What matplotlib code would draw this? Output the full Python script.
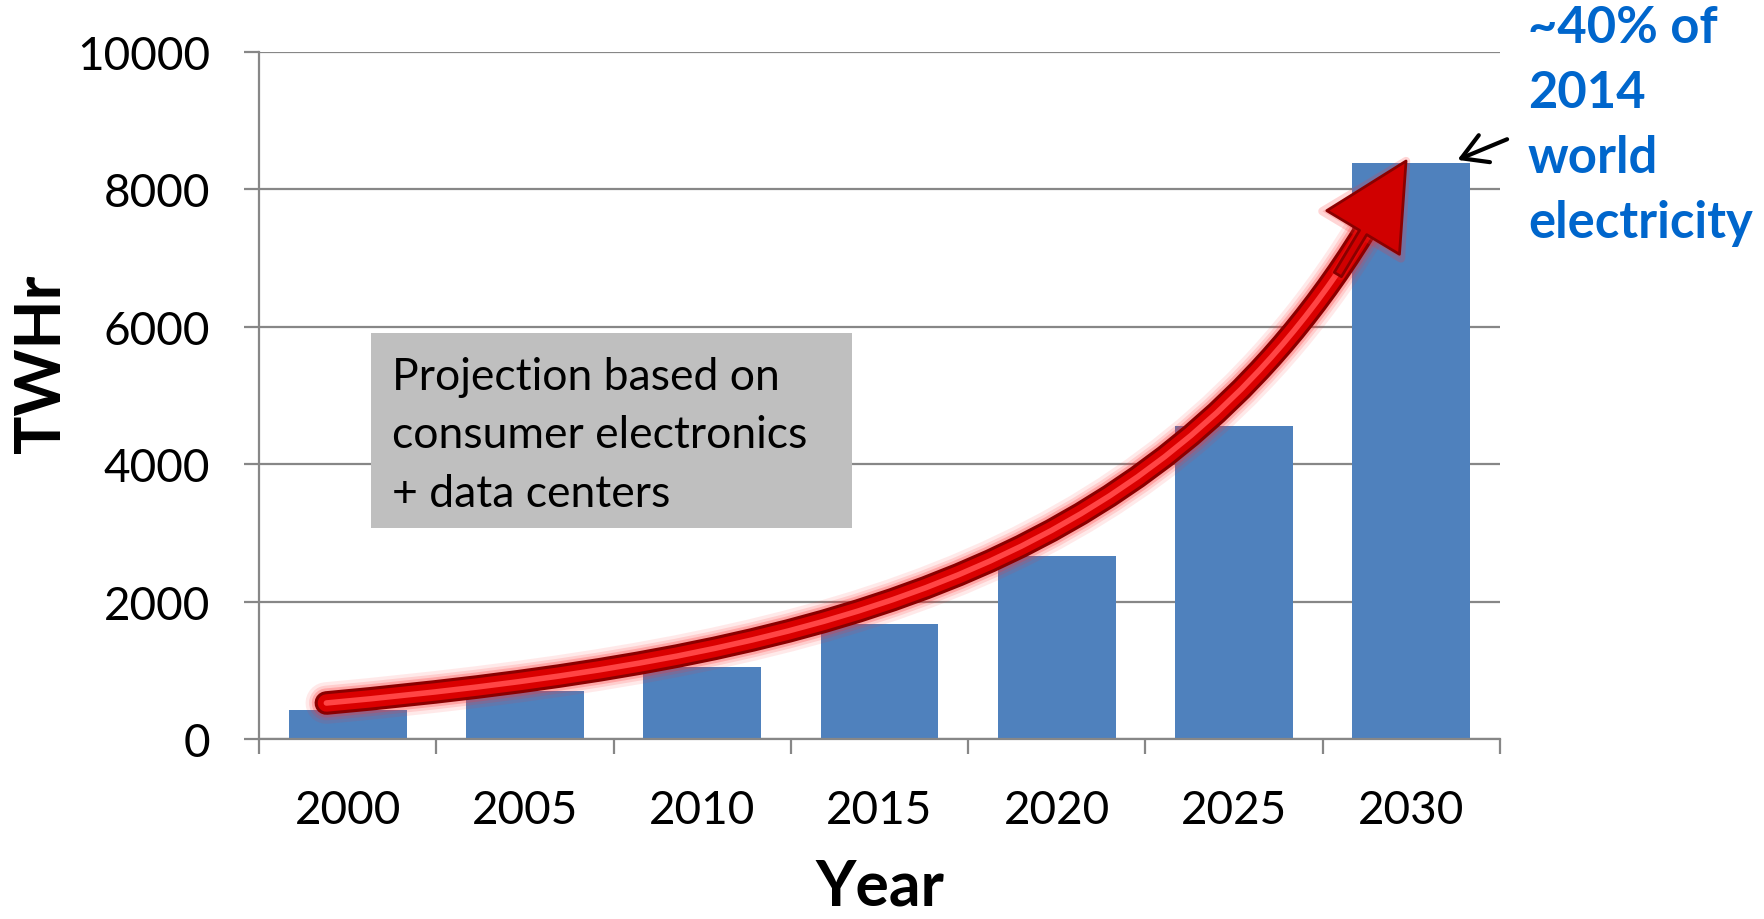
import numpy as np
import matplotlib.pyplot as plt
from matplotlib.path import Path
from matplotlib.patches import PathPatch, FancyArrowPatch, Rectangle, ArrowStyle

# ---------------------- data
years = ['2000', '2005', '2010', '2015', '2020', '2025', '2030']
twh = [420, 700, 1050, 1670, 2670, 4550, 8380]
yticks = [0, 2000, 4000, 6000, 8000, 10000]

box_text = 'Projection based on\nconsumer electronics\n+ data centers'
note_text = '~40% of\n2014\nworld\nelectricity'

# ---------------------- style
plt.rcParams['font.family'] = ['Lato', 'DejaVu Sans']
barColor = '#4F81BD'
gridColor = '#878787'
noteColor = '#0066CC'

fig = plt.figure(figsize=(17.64, 9.2), dpi=100)
ax = fig.add_axes([259/1764, 180/920, 1241/1764, 687/920])

x = np.arange(len(years))
ax.bar(x, twh, width=0.665, color=barColor, zorder=2)

ax.set_xlim(-0.5, len(years) - 0.5)
ax.set_ylim(0, 10000)
ax.set_yticks(yticks)
ax.set_yticklabels([str(v) for v in yticks])
ax.set_xticks(x)
ax.set_xticklabels(years)
ax.set_xticks(np.arange(len(years) + 1) - 0.5, minor=True)

ax.grid(axis='y', color=gridColor, lw=1.6, zorder=0)
ax.set_axisbelow(True)
for s in ['top', 'right']:
    ax.spines[s].set_visible(False)
for s in ['left', 'bottom']:
    ax.spines[s].set_color(gridColor)
    ax.spines[s].set_linewidth(1.6)

ax.tick_params(axis='y', length=11, width=1.6, color=gridColor, labelsize=33, pad=24)
ax.tick_params(axis='x', which='major', length=0, labelsize=33, pad=36)
ax.tick_params(axis='x', which='minor', length=11, width=1.6, color=gridColor)

ax.set_xlabel('Year', fontsize=45, fontweight='bold')
ax.xaxis.set_label_coords(0.5, -0.172)
ax.set_ylabel('TWHr', fontsize=46, fontweight='bold')
ax.yaxis.set_label_coords(-0.175, 0.547)
ax.yaxis.label.set_verticalalignment('center')

# ---------------------- grey text box
ax.add_patch(Rectangle((0.0903, 0.3071), 0.3876, 0.2838, transform=ax.transAxes,
                       facecolor='#BFBFBF', edgecolor='none', zorder=3))
ax.text(0.1072, 0.558, box_text, transform=ax.transAxes, fontsize=32,
        va='top', ha='left', linespacing=1.53, zorder=4)

# ---------------------- red growth arrow
P0 = (-0.12, 524)
P1 = (2.55, 1164)
P2 = (4.525, 2329)
P3 = (5.73, 7365)
tip = (5.97, 8413)
shaft = Path([P0, P1, P2, P3], [Path.MOVETO, Path.CURVE4, Path.CURVE4, Path.CURVE4])

for lw, a in [(30, 0.10), (25, 0.15), (21, 0.25)]:
    p = PathPatch(shaft, facecolor='none', edgecolor='#FF3030', lw=lw, alpha=a, zorder=5)
    p.set_capstyle('round')
    ax.add_patch(p)
for lw, c in [(17, '#8A0000'), (12.5, '#DA0000'), (4, '#FF4545')]:
    p = PathPatch(shaft, facecolor='none', edgecolor=c, lw=lw, zorder=6)
    p.set_capstyle('round')
    ax.add_patch(p)

Pa = (P3[0] - 0.12*(P3[0] - P2[0]), P3[1] - 0.12*(P3[1] - P2[1]))
headGlow = FancyArrowPatch(Pa, tip, arrowstyle=ArrowStyle.Simple(head_length=62, head_width=66, tail_width=4),
                           mutation_scale=1, shrinkA=0, shrinkB=0, fc='#FF3030', ec='#FF3030',
                           lw=6, alpha=0.2, zorder=6)
ax.add_patch(headGlow)
head = FancyArrowPatch(Pa, tip, arrowstyle=ArrowStyle.Simple(head_length=60, head_width=61, tail_width=6),
                       mutation_scale=1, shrinkA=0, shrinkB=0, fc='#D00000', ec='#8A0000',
                       lw=2, zorder=7)
ax.add_patch(head)

# ---------------------- note on the right
ax.annotate('', xy=(6.26, 8430), xytext=(6.54, 8730),
            arrowprops=dict(arrowstyle='->,head_length=0.6,head_width=0.35', lw=3,
                            color='black', shrinkA=0, shrinkB=0, mutation_scale=30),
            annotation_clip=False)
fig.text(1528/1764, 1 - 5/920, note_text, color=noteColor, fontsize=36.5,
         fontweight='bold', va='top', ha='left', linespacing=1.47)

plt.savefig('out.png', dpi=100)
